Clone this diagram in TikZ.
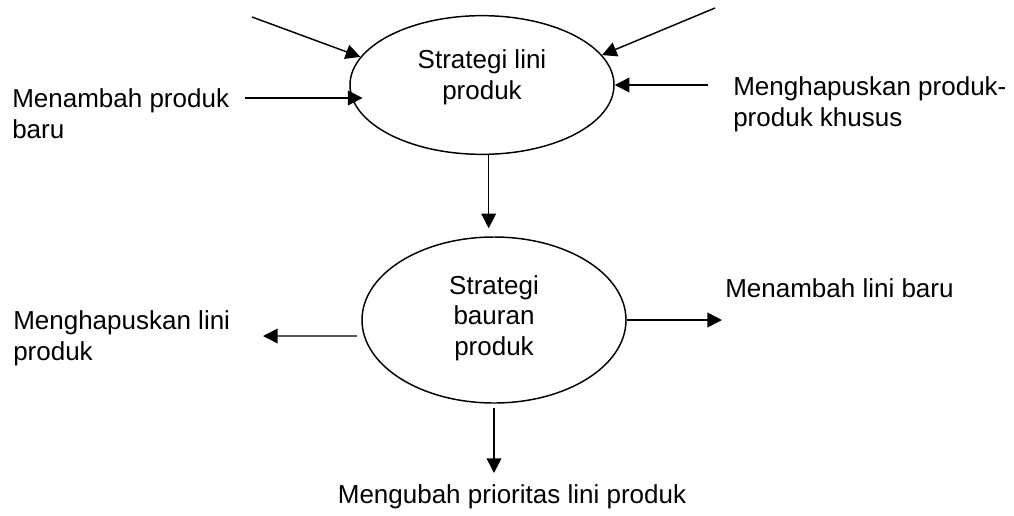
\documentclass[tikz,border=0pt]{standalone}
\usepackage{fontspec}
\setmainfont{Liberation Sans}
\usetikzlibrary{shapes.geometric,arrows.meta}
\tikzset{
    oval-proses/.style = {draw, ellipse, line width=1.1pt, minimum width=198pt, inner sep=0pt},
    teks-oval/.style = {font=\fontsize{19.5}{23}\selectfont, align=center, inner sep=0pt},
    teks-label/.style = {font=\fontsize{19.5}{23.5}\selectfont, align=left, inner sep=0pt, anchor=west},
    panah/.style = {-{Triangle[length=11pt,width=11pt]}, line width=1.1pt},
}

\begin{document}
\begin{tikzpicture}[x=0.75pt, y=-0.75pt]
\useasboundingbox (0,0) rectangle (1014,515);
% strategi
\node [oval-proses, minimum height=104pt] (lini) at (482,85) {};
\node [teks-oval] (lini-teks) at (482,77) {Strategi lini\\produk};
\node [oval-proses, minimum height=124.5pt] (bauran) at (494,320) {};
\node [teks-oval] (bauran-teks) at (494,318) {Strategi\\bauran\\produk};

% label
\node [teks-label] (tambah-produk) at (12,114) {Menambah produk\\baru};
\node [teks-label] (hapus-produk) at (733,104) {Menghapuskan produk-\\produk khusus};
\node [teks-label] (hapus-lini) at (13,338) {Menghapuskan lini\\produk};
\node [teks-label] (tambah-lini) at (725,288) {Menambah lini baru};
\node [teks-oval] (ubah-prioritas) at (512,497) {Mengubah prioritas lini produk};

% ujung bebas
\coordinate (atas-kiri) at (252,17);
\coordinate (atas-kanan) at (715,8);
\coordinate (masuk-kiri) at (245,98);
\coordinate (masuk-kanan) at (708,85);
\coordinate (keluar-kiri) at (263,336);
\coordinate (keluar-kanan) at (722,320);
\coordinate (keluar-bawah) at (494,473);

\draw [panah] (atas-kiri) -- (lini.167);
\draw [panah] (atas-kanan) -- (lini.14);
\draw [panah, shorten >=-10pt] (masuk-kiri) -- (masuk-kiri -| lini.west);
\draw [panah] (masuk-kanan) -- (lini.east);
\draw [panah, shorten >=6pt] ([xshift=5pt]lini.south) -- ([xshift=5pt]lini.south |- bauran.north);
\draw [panah, shorten <=5pt] (bauran.187) -- (keluar-kiri);
\draw [panah] (bauran.east) -- (keluar-kanan);
\draw [panah, shorten <=3pt] (bauran.south) -- (keluar-bawah);
\end{tikzpicture}
\end{document}
